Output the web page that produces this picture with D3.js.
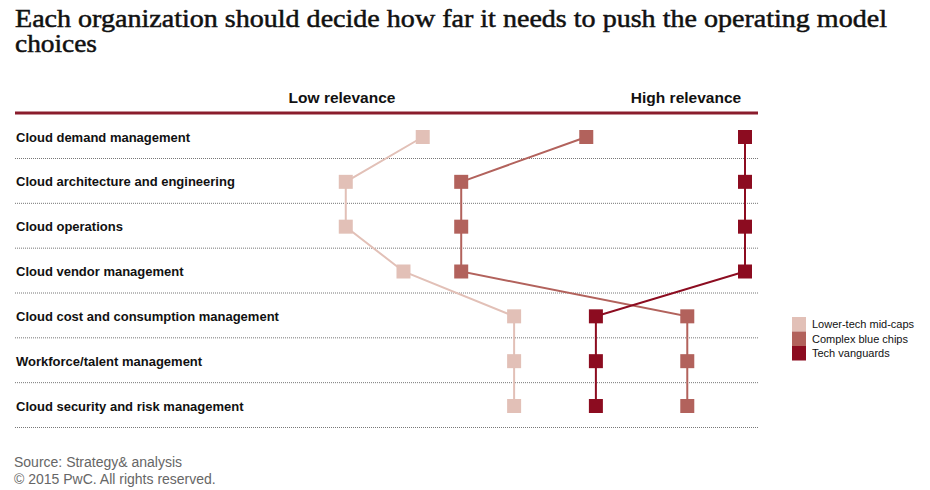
<!DOCTYPE html>
<html>
<head>
<meta charset="utf-8">
<script src="https://cdn.jsdelivr.net/npm/d3@7"></script>
<style>
  body { margin: 0; background: #fff; }
  svg { display: block; }
</style>
</head>
<body>
<svg id="chart" width="930" height="490"></svg>
<script>
// relevance rows, top to bottom
const capabilities = [
  'Cloud demand management',
  'Cloud architecture and engineering',
  'Cloud operations',
  'Cloud vendor management',
  'Cloud cost and consumption management',
  'Workforce/talent management',
  'Cloud security and risk management',
];

// relevance score per row (0 = low, 100 = high)
const lowerTech = [33, 17, 17, 29, 52, 52, 52];
const blueChips = [67, 41, 41, 41, 88, 88, 88];
const vanguards = [100, 100, 100, 100, 69, 69, 69];

const seriesNames = ['Lower-tech mid-caps', 'Complex blue chips', 'Tech vanguards'];
const seriesColors = ['#e2c0b7', '#b2625c', '#8c0c20'];
const scaleLabels = ['Low relevance', 'High relevance'];
const titleLines = ['Each organization should decide how far it needs to push the operating model', 'choices'];
const sourceLines = ['Source: Strategy& analysis', '\u00a9 2015 PwC. All rights reserved.'];

const series = [lowerTech, blueChips, vanguards].map((values, i) => ({
  name: seriesNames[i],
  color: seriesColors[i],
  points: values.map((v, j) => ({ row: capabilities[j], value: v })),
}));

const svg = d3.select('#chart');
const left = 15;
const right = 758;
const markerSize = 14;

const x = d3.scaleLinear().domain([0, 100]).range([264, 745]);
const y = d3.scalePoint().domain(capabilities).range([137, 406]);

// title
svg.append('g')
  .selectAll('text')
  .data(titleLines)
  .join('text')
  .attr('x', left)
  .attr('y', (d, i) => 27 + i * 25)
  .attr('font-family', 'Liberation Serif, Times New Roman, serif')
  .attr('font-size', 25)
  .attr('fill', '#111')
  .attr('stroke', '#111')
  .attr('stroke-width', 0.5)
  .attr('textLength', (d, i) => (i === 0 ? 872 : 82))
  .attr('lengthAdjust', 'spacingAndGlyphs')
  .text((d) => d);

// relevance header
svg.append('g')
  .selectAll('text')
  .data(scaleLabels)
  .join('text')
  .attr('x', (d, i) => (i === 0 ? 342 : 686))
  .attr('y', 103)
  .attr('text-anchor', 'middle')
  .attr('font-family', 'Liberation Sans, Arial, sans-serif')
  .attr('font-weight', 'bold')
  .attr('font-size', 15.5)
  .attr('fill', '#111')
  .text((d) => d);

svg.append('line')
  .attr('x1', left).attr('x2', right)
  .attr('y1', 113).attr('y2', 113)
  .attr('stroke', '#8a1c2c')
  .attr('stroke-width', 3);

// dotted separators
svg.append('g')
  .selectAll('line')
  .data(capabilities)
  .join('line')
  .attr('x1', left).attr('x2', right)
  .attr('y1', (d) => y(d) + 21.5)
  .attr('y2', (d) => y(d) + 21.5)
  .attr('stroke', '#777')
  .attr('stroke-width', 1)
  .attr('stroke-dasharray', '1,1');

// row labels
svg.append('g')
  .selectAll('text')
  .data(capabilities)
  .join('text')
  .attr('x', left + 1)
  .attr('y', (d) => y(d) + 4.5)
  .attr('font-family', 'Liberation Sans, Arial, sans-serif')
  .attr('font-weight', 'bold')
  .attr('font-size', 13)
  .attr('fill', '#111')
  .text((d) => d);

// connecting lines
const line = d3.line()
  .x((d) => x(d.value))
  .y((d) => y(d.row));

svg.append('g')
  .selectAll('path')
  .data(series)
  .join('path')
  .attr('d', (d) => line(d.points))
  .attr('fill', 'none')
  .attr('stroke', (d) => d.color)
  .attr('stroke-width', 2);

// square markers
svg.append('g')
  .selectAll('g')
  .data(series)
  .join('g')
  .attr('fill', (d) => d.color)
  .selectAll('rect')
  .data((d) => d.points)
  .join('rect')
  .attr('x', (d) => x(d.value) - markerSize / 2)
  .attr('y', (d) => y(d.row) - markerSize / 2)
  .attr('width', markerSize)
  .attr('height', markerSize);

// legend
const legend = svg.append('g').attr('transform', 'translate(792,317)');
legend.selectAll('rect')
  .data(series)
  .join('rect')
  .attr('x', 0)
  .attr('y', (d, i) => i * 14.5)
  .attr('width', 14)
  .attr('height', 14.5)
  .attr('fill', (d) => d.color);
legend.selectAll('text')
  .data(series)
  .join('text')
  .attr('x', 20)
  .attr('y', (d, i) => i * 14.5 + 11)
  .attr('font-family', 'Liberation Sans, Arial, sans-serif')
  .attr('font-size', 11)
  .attr('fill', '#111')
  .text((d) => d.name);

// source
svg.append('g')
  .selectAll('text')
  .data(sourceLines)
  .join('text')
  .attr('x', 14)
  .attr('y', (d, i) => 467 + i * 17)
  .attr('font-family', 'Liberation Sans, Arial, sans-serif')
  .attr('font-size', 14)
  .attr('fill', '#666')
  .text((d) => d);
</script>
</body>
</html>
